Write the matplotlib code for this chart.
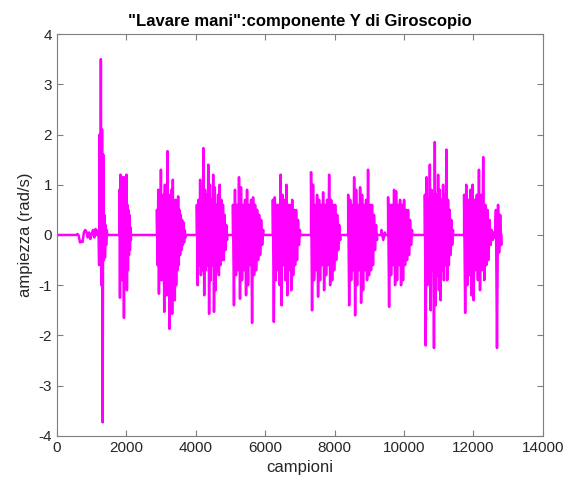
import numpy as np
import matplotlib
matplotlib.use("Agg")
import matplotlib.pyplot as plt

# =========================
# Data: each burst = start sample, end sample, extremes
# =========================
pre_noise = (550, 1150, [0.0, 0.02, -0.01, -0.15, -0.12, -0.14, 0.05, 0.1, 0.06,
                         -0.05, 0.05, -0.08, 0.02, 0.1, -0.05, 0.12, 0.0])
spike = (1180, 1450, [0.0, 0.1, -0.6, 2.0, -0.5, 3.5, -1.0, 2.1, -3.73, 1.6,
                      -0.5, 0.4, -0.45, 0.2, -0.2, 0.1, 0.0])
burst1 = (1800, 2130, [0.9, -1.25, 1.2, -0.7, 0.8, -0.9, 1.15, -0.6, 0.7, -1.65,
                       1.15, -0.8, 0.9, -0.6, 1.2, -1.1, 0.6, -0.7, 0.5, -0.4,
                       0.4, -0.3, 0.15, -0.1])
burst2 = (2880, 3700, [0.5, -0.6, 0.9, -1.17, 0.6, -0.8, 1.3, -0.9, 0.75, -0.6,
                       0.8, -1.53, 1.0, -0.7, 0.6, -1.2, 1.67, -0.8, 0.7, -1.87,
                       0.8, -0.6, 0.9, -1.57, 1.1, -0.7, 0.6, -1.3, 0.7, -1.0,
                       0.6, -0.7, 0.77, -0.6, 0.5, -0.4, 0.4, -0.3, 0.3, -0.2,
                       0.25, -0.15, 0.1, -0.05])
burst3 = (4030, 4900, [0.6, -1.0, 0.7, -0.6, 1.1, -0.8, 0.6, -0.7, 1.73, -1.2,
                       0.9, -0.7, 0.8, -0.6, 1.4, -1.57, 1.0, -0.9, 0.7, -0.6,
                       1.2, -1.53, 0.95, -1.1, 0.6, -0.7, 0.8, -0.8, 1.0, -0.6,
                       0.7, -0.5, 0.6, -0.5, 0.4, -0.3, 0.2, -0.1])
burst4 = (5070, 5940, [0.6, -1.4, 0.9, -0.8, 0.6, -0.7, 1.15, -1.27, 0.95, -0.9,
                       0.6, -0.7, 0.7, -1.2, 0.9, -1.0, 0.6, -0.6, 0.7, -1.75,
                       0.75, -0.8, 0.6, -0.7, 0.5, -0.5, 0.4, -0.4, 0.3, -0.2,
                       0.1])
burst5 = (6220, 7000, [0.7, -1.73, 0.75, -0.9, 0.6, -0.7, 0.6, -1.0, 1.2, -1.4,
                       0.8, -0.6, 0.7, -0.9, 1.0, -1.2, 0.6, -0.7, 0.6, -1.1,
                       0.7, -0.8, 0.5, -0.6, 0.5, -0.5, 0.3, -0.2, 0.1])
burst6 = (7320, 8160, [1.25, -1.5, 1.0, -0.9, 0.6, -0.7, 0.8, -1.23, 0.7, -0.9,
                       0.6, -0.6, 0.85, -1.1, 0.6, -0.8, 0.7, -0.6, 1.2, -1.0,
                       0.7, -0.9, 0.6, -0.7, 0.6, -0.5, 0.4, -0.3, 0.2, -0.1])
burst7 = (8390, 9220, [0.8, -1.4, 0.7, -0.9, 0.6, -0.7, 1.15, -1.6, 0.9, -1.0,
                       0.6, -0.7, 0.95, -1.35, 0.8, -1.1, 0.6, -0.7, 0.7, -0.9,
                       1.3, -0.8, 0.6, -0.7, 0.6, -0.6, 0.4, -0.3, 0.2, -0.1])
bump = (9350, 9450, [0.1, -0.1, 0.05])
burst8 = (9540, 10230, [0.75, -1.43, 0.6, -0.8, 0.6, -0.6, 0.9, -1.0, 0.87, -0.9,
                        0.6, -0.6, 0.7, -1.0, 0.6, -0.9, 0.7, -0.6, 0.5, -0.5,
                        0.5, -0.4, 0.3, -0.2, 0.1])
burst9 = (10600, 11410, [0.8, -2.2, 1.15, -1.0, 0.7, -0.8, 1.4, -1.5, 0.9, -0.7,
                         0.8, -2.25, 1.85, -1.4, 0.8, -0.8, 1.2, -1.1, 0.9, -1.3,
                         0.7, -0.7, 1.0, -0.9, 0.8, -0.6, 1.7, -0.9, 0.7, -0.6,
                         0.5, -0.4, 0.3, -0.2, 0.1])
burst10 = (11730, 12800, [0.8, -1.55, 1.0, -1.0, 0.7, -0.8, 0.9, -1.2, 1.0, -1.3,
                          0.7, -0.7, 0.8, -0.9, 1.3, -1.1, 0.8, -0.7, 1.55, -0.9,
                          0.6, -0.6, 0.5, -0.5, 0.3, -0.2, 0.1, -0.1, 0.05, -0.05,
                          0.5, -2.25, 0.6, -0.35, 0.4, -0.2])

segments = [pre_noise, spike, burst1, burst2, burst3, burst4, burst5,
            burst6, burst7, bump, burst8, burst9, burst10]

# build the trace: zero between segments
xs = [0.0]
ys = [0.0]
for start, end, vals in segments:
    xs.append(start)
    ys.append(0.0)
    xs.extend(np.linspace(start, end, len(vals)))
    ys.extend(vals)
    xs.append(end)
    ys.append(0.0)

# =========================
# Plot
# =========================
plt.rcParams["font.family"] = ["Liberation Sans", "DejaVu Sans"]
plt.rcParams["axes.unicode_minus"] = False

fig = plt.figure(figsize=(5.84, 4.86), dpi=100)
ax = fig.add_axes([0.0976, 0.103, 0.832, 0.827])

ax.plot(xs, ys, color="#ff00ff", linewidth=1.8)

ax.set_xlim(0, 14000)
ax.set_ylim(-4, 4)
ax.set_xticks(np.arange(0, 14001, 2000))
ax.set_yticks(np.arange(-4, 5, 1))

ax.tick_params(direction="in", top=True, right=True, length=4,
               labelsize=11, colors="#262626", width=0.8)
for s in ax.spines.values():
    s.set_color("#7f7f7f")
    s.set_linewidth(0.8)
ax.tick_params(axis="both", color="#7f7f7f")

ax.set_xlabel("campioni", fontsize=12, color="#262626")
ax.set_ylabel("ampiezza (rad/s)", fontsize=12, color="#262626")
ax.set_title("\"Lavare mani\":componente Y di Giroscopio",
             fontsize=12, fontweight="bold", color="black")

fig.savefig("out.png", dpi=100)
